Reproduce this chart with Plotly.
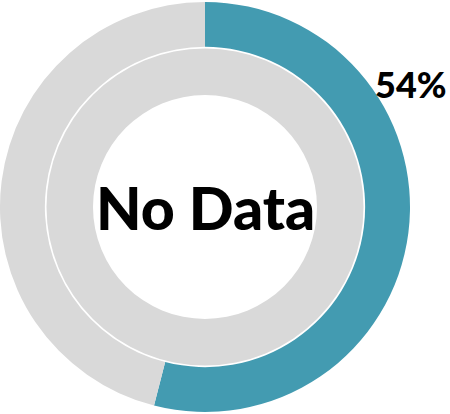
import plotly.graph_objects as go

# Outer ring: share achieved vs. remainder
outer_labels = ["Achieved", "Remaining"]
outer_values = [54, 46]

# Inner ring: comparison period has no data
inner_labels = ["No Data"]
inner_values = [100]

TEAL = "#439BB1"
GRAY = "#D9D9D9"

W, H = 450, 414
cx, cy = 205, 207          # ring centre in pixels (from top-left)
r_outer = 205
r_mid = 158.5
r_hole = 112

fig = go.Figure()

fig.add_trace(go.Pie(
    labels=outer_labels,
    values=outer_values,
    hole=r_mid / r_outer + 0.008,
    sort=False,
    direction="clockwise",
    rotation=0,
    marker=dict(colors=[TEAL, GRAY], line=dict(width=0)),
    textinfo="none",
    hoverinfo="label+percent",
    domain=dict(x=[(cx - r_outer) / W, (cx + r_outer) / W],
                y=[1 - (cy + r_outer) / H, 1 - (cy - r_outer) / H]),
    showlegend=False,
))

fig.add_trace(go.Pie(
    labels=inner_labels,
    values=inner_values,
    hole=r_hole / r_mid,
    sort=False,
    direction="clockwise",
    marker=dict(colors=[GRAY], line=dict(width=0)),
    textinfo="none",
    hoverinfo="label",
    domain=dict(x=[(cx - r_mid) / W, (cx + r_mid) / W],
                y=[1 - (cy + r_mid) / H, 1 - (cy - r_mid) / H]),
    showlegend=False,
))

fig.add_annotation(
    text="No Data", x=cx / W, y=1 - 207 / H, xref="paper", yref="paper",
    showarrow=False, xanchor="center", yanchor="middle",
    font=dict(family="Lato", size=59, color="#000000", weight=900),
)

fig.add_annotation(
    text=f"{outer_values[0]}%", x=411 / W, y=1 - 84 / H, xref="paper", yref="paper",
    showarrow=False, xanchor="center", yanchor="middle",
    font=dict(family="Lato", size=36, color="#000000", weight=900),
)

fig.update_layout(
    width=W, height=H,
    margin=dict(l=0, r=0, t=0, b=0),
    paper_bgcolor="white", plot_bgcolor="white",
)

fig.write_html("out.html")
